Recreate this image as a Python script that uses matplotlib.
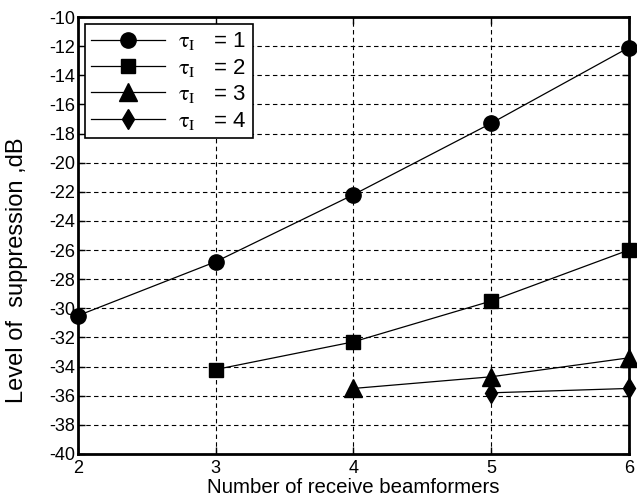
import matplotlib
matplotlib.use('Agg')
import matplotlib.pyplot as plt

plt.rcParams['font.family'] = ['Liberation Sans', 'DejaVu Sans']
plt.rcParams['mathtext.fontset'] = 'stix'
plt.rcParams['axes.unicode_minus'] = False

# suppression level vs number of receive beamformers
x1 = [2, 3, 4, 5, 6]
y1 = [-30.5, -26.8, -22.2, -17.3, -12.1]
x2 = [3, 4, 5, 6]
y2 = [-34.2, -32.3, -29.5, -26.0]
x3 = [4, 5, 6]
y3 = [-35.5, -34.7, -33.4]
x4 = [5, 6]
y4 = [-35.8, -35.5]
taus = [1, 2, 3, 4]

fig = plt.figure(figsize=(6.37, 5.0), dpi=100)
ax = fig.add_axes([0.1225, 0.092, 0.8645, 0.874])

series = [(x1, y1, 'o', 11), (x2, y2, 's', 9.5), (x3, y3, '^', 12.5), (x4, y4, 'd', 10)]
for (xs, ys, mk, ms), t in zip(series, taus):
    ax.plot(xs, ys, color='black', linewidth=0.9, marker=mk, markersize=ms,
            label=r'$\mathrm{\tau_I}$   = %d' % t, clip_on=False, zorder=3)

ax.set_xlim(2, 6)
ax.set_ylim(-40, -10)
ax.set_xticks([2, 3, 4, 5, 6])
ax.set_yticks(range(-40, -9, 2))
ax.tick_params(direction='in', top=True, right=True, labelsize=13, length=5,
               width=1, pad=2)
ax.tick_params(axis='x', pad=4)
ax.grid(True, color='black', linestyle=(0, (4, 3)), linewidth=0.8)
for s in ax.spines.values():
    s.set_linewidth(2)

ax.set_xlabel('Number of receive beamformers', fontsize=14.7, labelpad=1)
ax.set_ylabel('Level of  suppression ,dB', fontsize=17, labelpad=4)
ax.yaxis.set_label_coords(-0.09, 0.42)

leg = ax.legend(loc='upper left', fontsize=16, fancybox=False, framealpha=1,
                edgecolor='black', handlelength=3.3, borderaxespad=0.3,
                labelspacing=0.2, borderpad=0.3, handletextpad=0.6)
leg.get_frame().set_linewidth(1.2)

fig.savefig('out.png', dpi=100)
